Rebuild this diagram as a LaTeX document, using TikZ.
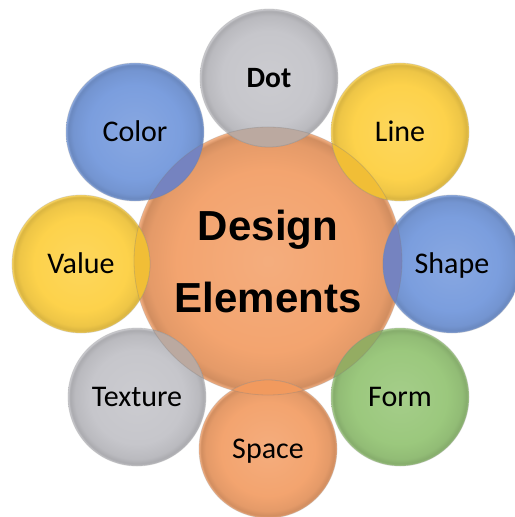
\documentclass[tikz,border=0pt]{standalone}
\usepackage{fontspec}
\setmainfont{Carlito}
\newfontfamily\headfont{Liberation Sans}
\definecolor{cOrange}{HTML}{F3A46F}
\definecolor{cGray}{HTML}{C6C6CB}
\definecolor{cBlue}{HTML}{7B9EDE}
\definecolor{cYellow}{HTML}{FDD24B}
\definecolor{cGreen}{HTML}{9BC87D}
\definecolor{lBlue}{HTML}{7583C0}
\definecolor{lYellow}{HTML}{F1BE36}
\definecolor{lGray}{HTML}{BBA9A0}
\definecolor{lGreen}{HTML}{94AC62}
\definecolor{lOrange}{HTML}{F19A5E}
\colorlet{glasscol}{cOrange}
\pgfdeclareradialshading[glasscol]{glass}{\pgfpoint{0bp}{0bp}}{%
 color(0bp)=(glasscol!90!white);
 color(17bp)=(glasscol);
 color(22.5bp)=(glasscol!94!black);
 color(24.3bp)=(glasscol!86!black);
 color(25bp)=(glasscol!85!white);
 color(50bp)=(glasscol!85!white)}
\tikzset{
 glass color/.code={\colorlet{glasscol}{#1}},
 circ/.style={circle, inner sep=0pt, minimum size=138bp, shading=glass,
   glass color=#1, draw=black!40, draw opacity=0.3, line width=0.8bp},
 lab/.style={font=\fontsize{30bp}{36bp}\selectfont, text height=19.3bp, text depth=0pt},
 lensfill/.style={fill=#1},
 rim/.style={draw=black!50, draw opacity=0.3, line width=0.8bp}
}
\begin{document}
\begin{tikzpicture}[x=1bp,y=-1bp]
\useasboundingbox (0,0) rectangle (515,517);
\fill[white] (0,0) rectangle (515,517);
\node[circ=cOrange, minimum size=268bp, align=center,
  font=\headfont\bfseries\fontsize{42bp}{72bp}\selectfont] (c) at (268,261) {Design\\Elements};
\node[circ=cGray, lab, font=\bfseries\fontsize{29.5bp}{34bp}\selectfont] (dot) at (269,78) {Dot};
\node[circ=cYellow, lab] (line) at (400,132) {Line};
\node[circ=cBlue, lab] (shape) at (452,264) {Shape};
\node[circ=cGreen, lab] (form) at (400,397) {Form};
\node[circ=cOrange, lab] (space) at (268,449) {Space};
\node[circ=cGray, lab] (texture) at (137,397) {Texture};
\node[circ=cYellow, lab] (value) at (81,264) {Value};
\node[circ=cBlue, lab] (color) at (135,132) {Color};
\foreach \s/\l in {dot/lGray, line/lYellow, shape/lBlue, form/lGreen, space/lOrange, texture/lGray, value/lYellow, color/lBlue}{
  \begin{scope}
    \clip (c.center) circle[radius=134bp];
    \fill[lensfill=\l] (\s.center) circle[radius=69bp];
    \draw[rim] (\s.center) circle[radius=69bp];
  \end{scope}
  \begin{scope}
    \clip (\s.center) circle[radius=69bp];
    \draw[rim] (c.center) circle[radius=134bp];
  \end{scope}
}
\end{tikzpicture}
\end{document}
